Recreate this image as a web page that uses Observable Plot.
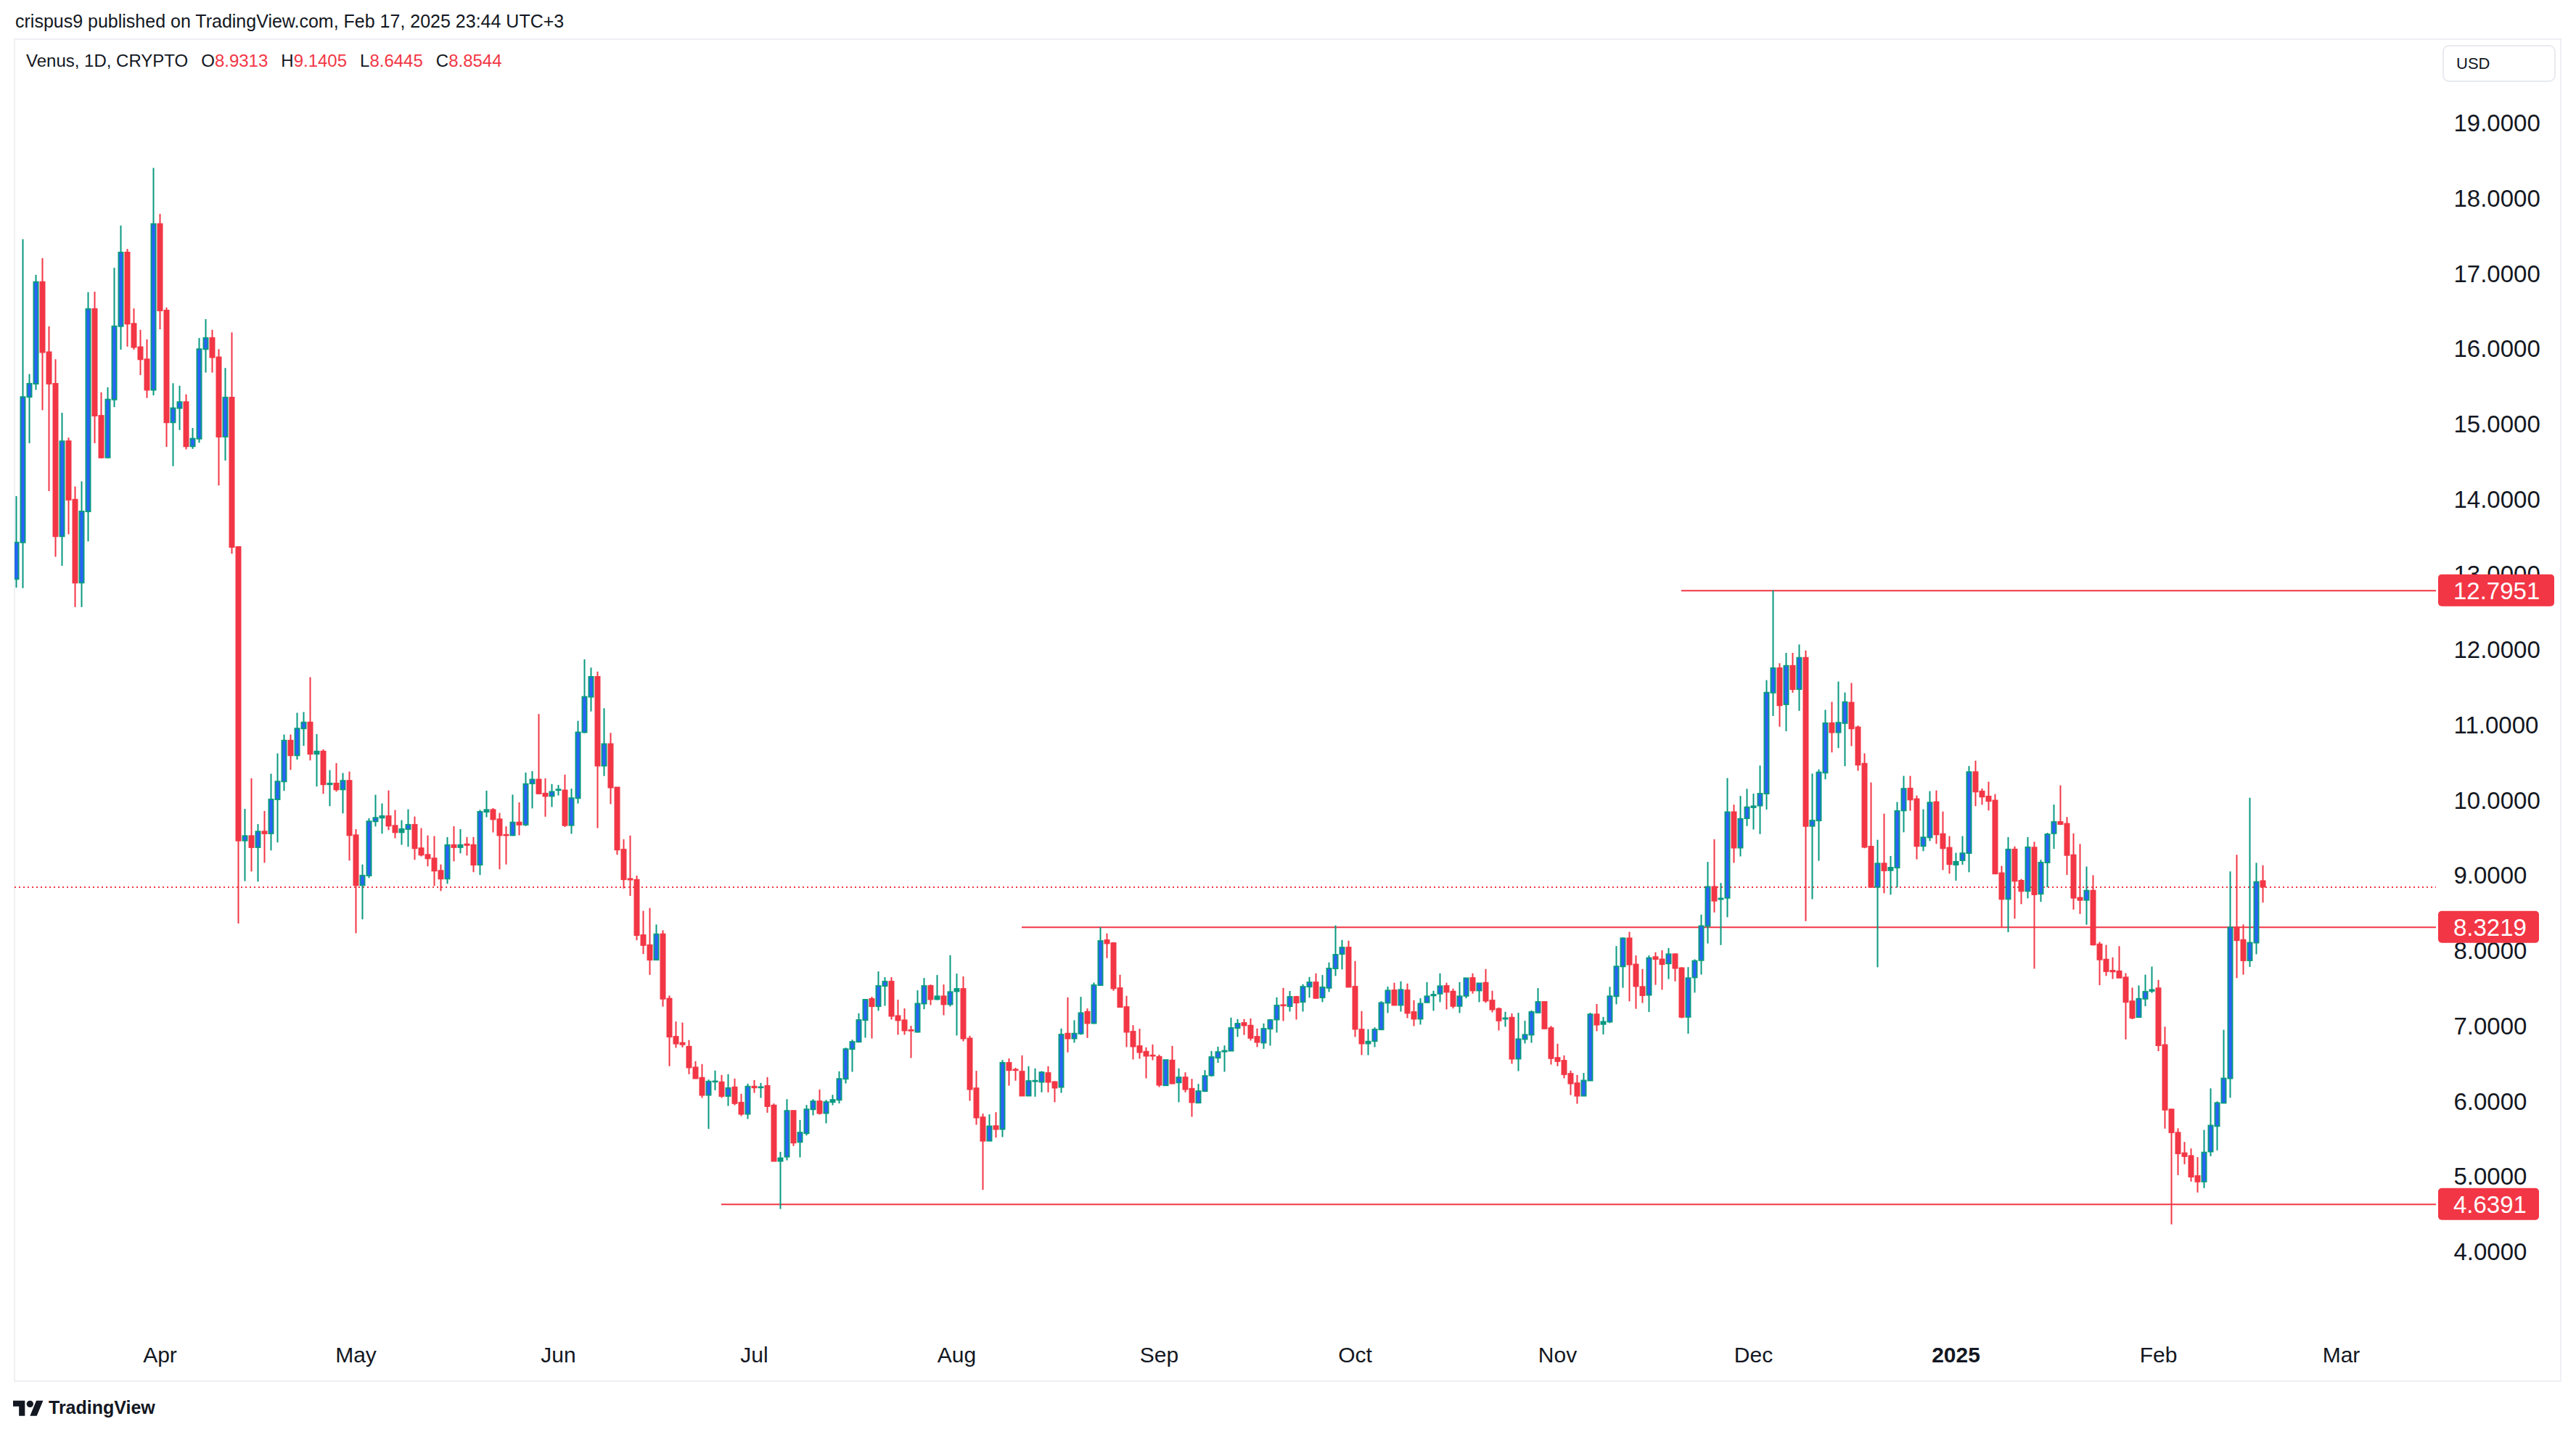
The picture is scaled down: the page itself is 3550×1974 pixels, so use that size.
<!DOCTYPE html>
<html>
<head>
<meta charset="utf-8">
<script src="https://cdn.jsdelivr.net/npm/d3@7"></script>
<script src="https://cdn.jsdelivr.net/npm/@observablehq/plot@0.6"></script>
<style>
  html, body { margin: 0; padding: 0; background: #ffffff; }
  #page { position: relative; width: 3550px; height: 1974px; overflow: hidden; background: #fff;
          font-family: "Liberation Sans", Arial, sans-serif; color: #131722; }
  #frame { position: absolute; left: 19px; top: 53px; width: 3511px; height: 1852px; border: 2px solid #eef0f3; box-sizing: border-box; }
  #published { position: absolute; left: 21px; top: 14px; font-size: 25px; line-height: 30px; white-space: nowrap; }
  #legend { position: absolute; left: 36px; top: 69px; font-size: 24px; line-height: 30px; white-space: nowrap; }
  #legend .v { color: #F23645; }
  #legend .g { margin-left: 18px; }
  #usd { position: absolute; left: 3366px; top: 62px; width: 156px; height: 51px; box-sizing: border-box;
         border: 2px solid #e8eaef; border-radius: 9px; font-size: 22px; line-height: 47px; padding-left: 17px; }
  #chart { position: absolute; left: 0; top: 0; }
  #brand { position: absolute; left: 18px; top: 1922px; height: 36px; display: flex; align-items: center;
           font-size: 25px; font-weight: bold; color: #131722; }
  #brand svg { margin-right: 7px; }
</style>
</head>
<body>
<div id="page">
  <div id="frame"></div>
  <div id="published"></div>
  <div id="legend"></div>
  <div id="usd">USD</div>
  <div id="chart"></div>
  <div id="brand"><svg width="42" height="28" viewBox="0 0 36 24"><path fill="#131722" d="M14 22H7V11H0V4h14v18zM28 22h-8l7.5-18h8L28 22z"/><circle fill="#131722" cx="20" cy="8" r="4"/></svg>TradingView</div>
</div>
<script>
// ---------------- data ----------------
const publishedText = "crispus9 published on TradingView.com, Feb 17, 2025 23:44 UTC+3";
const symbolText = "Venus, 1D, CRYPTO";
const firstDay = "2024-03-10"; // first daily candle

const open = [12.944,13.43,15.364,15.54,16.892,15.959,15.54,13.512,14.776,13.998,
12.896,13.843,16.533,15.114,14.559,15.33,16.303,17.284,16.337,16.026,
15.864,15.458,17.662,16.513,15.026,15.215,15.296,14.708,14.81,15.999,
16.148,15.891,14.836,15.357,13.37,9.469,9.53,9.38,9.589,9.563,
10.016,10.254,10.798,10.601,10.958,11.039,10.621,10.653,10.216,10.228,
10.148,10.264,9.54,8.875,9.004,9.724,9.772,9.794,9.666,9.579,
9.621,9.679,9.367,9.28,9.232,9.068,8.962,9.409,9.38,9.42,
9.41,9.147,9.851,9.877,9.752,9.545,9.539,9.71,9.68,10.227,
10.28,10.094,10.06,10.14,10.136,9.672,10.033,10.908,11.379,11.645,
10.463,10.752,10.174,9.349,8.96,8.946,8.212,8.079,7.885,8.224,
7.368,6.862,6.78,6.73,6.454,6.316,6.087,6.264,6.258,6.074,
6.19,5.987,5.836,6.2,6.187,6.209,5.949,5.21,5.267,5.878,
5.463,5.579,5.897,6.004,5.846,5.994,6.023,6.302,6.698,6.794,
7.084,7.364,7.267,7.537,7.595,7.138,7.081,6.95,6.926,7.302,
7.537,7.36,7.399,7.293,7.466,7.498,6.839,6.177,5.791,5.479,
5.675,5.634,6.515,6.425,6.399,6.078,6.27,6.261,6.38,6.261,
6.193,6.904,6.839,6.904,7.193,7.042,7.547,8.145,8.106,7.508,
7.257,6.93,6.737,6.663,6.614,6.595,6.216,6.547,6.254,6.322,
6.171,5.985,6.139,6.348,6.582,6.665,6.675,6.978,7.045,7.01,
6.862,6.782,6.968,7.09,7.283,7.267,7.392,7.325,7.527,7.585,
7.383,7.511,7.769,7.962,8.048,7.527,6.958,6.772,6.804,6.958,
7.312,7.479,7.283,7.479,7.19,7.1,7.318,7.41,7.434,7.537,
7.463,7.27,7.405,7.643,7.476,7.579,7.344,7.232,7.1,7.116,
6.569,6.83,6.888,7.183,7.325,6.977,6.582,6.544,6.37,6.244,
6.077,6.28,7.159,7.03,7.061,7.4,7.796,8.17,7.822,7.525,
7.417,7.921,7.89,7.835,7.959,7.774,7.125,7.65,7.878,8.333,
8.854,8.69,8.707,9.847,9.374,9.765,9.91,9.933,10.092,11.434,
11.76,11.279,11.791,11.481,11.898,9.662,9.735,10.37,11.029,10.907,
11.029,11.302,10.974,10.489,9.389,8.852,9.164,9.074,9.109,9.868,
10.161,10.02,9.396,9.511,9.981,9.556,9.373,9.148,9.206,9.302,
10.379,10.122,10.055,10.0,9.036,8.692,9.351,8.936,8.798,9.376,
8.761,9.177,9.564,9.716,9.692,9.276,8.708,8.679,8.803,8.09,
7.888,7.74,7.732,7.65,7.333,7.123,7.366,7.47,7.506,6.752,
5.896,5.587,5.315,5.278,5.011,4.937,5.336,5.674,5.982,6.308,
8.313,8.148,7.876,8.111,8.9313];

const high = [14.046,17.459,15.668,16.986,17.209,16.303,15.864,15.154,14.823,14.174,
14.242,16.756,16.763,15.425,15.492,17.081,17.642,17.331,16.54,16.256,
16.128,18.406,17.797,16.553,15.546,15.513,15.398,14.951,16.148,16.398,
16.256,15.999,15.749,16.222,13.37,9.89,10.296,9.688,9.862,10.357,
10.627,10.878,10.878,11.167,11.177,11.64,10.884,10.682,10.405,10.498,
10.367,10.386,9.621,9.151,9.765,10.077,9.962,10.135,9.875,9.74,
9.884,9.788,9.634,9.537,9.528,9.151,9.515,9.659,9.621,9.515,
9.516,9.877,10.132,9.9,9.836,9.657,10.079,9.976,10.372,10.391,
11.151,10.296,10.22,10.208,10.345,10.159,11.06,11.877,11.767,11.714,
11.227,10.9,10.174,9.486,9.535,9.003,8.535,8.573,8.353,8.277,
7.41,7.064,7.05,6.817,6.537,6.499,6.293,6.412,6.354,6.364,
6.306,6.103,6.238,6.286,6.248,6.325,5.975,5.332,6.032,5.878,
5.756,5.955,6.032,6.161,6.023,6.09,6.402,6.717,6.823,7.174,
7.364,7.393,7.73,7.653,7.653,7.354,7.238,7.007,7.479,7.643,
7.556,7.682,7.556,7.945,7.701,7.663,6.875,6.409,5.84,5.83,
5.859,6.553,6.573,6.45,6.614,6.47,6.441,6.405,6.47,6.271,
6.971,7.386,7.081,7.392,7.238,7.582,8.318,8.235,8.119,7.685,
7.405,7.016,6.968,6.721,6.759,6.624,6.553,6.74,6.441,6.389,
6.302,6.235,6.418,6.672,6.73,6.746,7.116,7.097,7.097,7.106,
6.971,7.039,7.097,7.386,7.511,7.47,7.405,7.56,7.656,7.704,
7.682,7.849,8.341,8.148,8.138,7.868,7.203,6.962,6.987,7.334,
7.527,7.579,7.598,7.569,7.347,7.373,7.588,7.473,7.704,7.579,
7.502,7.588,7.64,7.704,7.572,7.762,7.473,7.251,7.193,7.171,
7.18,7.074,7.212,7.508,7.325,7.006,6.769,6.614,6.412,6.354,
6.38,7.18,7.297,7.125,7.525,8.067,8.183,8.256,7.942,7.762,
7.942,7.985,8.011,8.041,7.972,7.787,7.787,7.89,8.484,9.185,
9.486,8.905,10.299,9.946,10.062,10.157,10.092,10.466,11.601,12.7951,
11.825,11.963,11.963,12.074,11.993,10.359,10.415,11.206,11.312,11.582,
11.437,11.563,10.997,10.627,10.241,9.479,9.826,9.264,9.981,10.328,
10.328,10.068,9.884,10.125,10.135,9.855,9.528,9.306,9.528,10.46,
10.53,10.161,10.251,10.087,9.132,9.515,9.392,8.958,9.515,9.453,
9.214,9.572,9.947,10.202,9.782,9.564,9.424,9.124,9.008,8.123,
8.082,7.917,8.066,7.707,7.514,7.543,7.687,7.794,7.617,6.995,
5.904,5.645,5.464,5.377,5.262,5.624,6.176,6.003,6.954,9.058,
9.28,8.354,10.038,9.173,9.1405];

const low = [12.83,12.822,14.749,15.458,15.188,14.113,13.241,13.12,13.539,12.572,
12.572,13.444,14.749,14.546,14.55,15.229,15.992,16.033,15.992,15.654,
15.35,15.384,16.263,14.701,14.444,14.924,14.667,14.674,14.755,15.688,
15.688,14.188,14.519,13.282,8.367,8.93,9.058,8.923,9.174,9.338,
9.444,10.129,10.408,10.544,10.727,10.534,10.187,10.09,9.926,10.119,
9.83,9.203,8.238,8.422,8.971,9.656,9.56,9.608,9.499,9.412,
9.386,9.213,9.258,9.126,8.865,8.798,8.894,9.193,9.299,9.27,
9.049,9.011,9.779,9.577,9.087,9.151,9.532,9.539,9.661,9.896,
10.087,9.786,9.915,10.068,9.649,9.558,9.961,10.896,11.185,9.634,
10.326,9.953,9.28,8.832,8.733,8.144,7.961,7.684,7.885,7.262,
6.471,6.714,6.72,6.364,6.309,6.049,5.637,6.151,6.049,5.942,
5.952,5.807,5.769,6.116,6.049,5.852,5.21,4.573,5.219,5.409,
5.258,5.55,5.817,5.827,5.711,5.952,5.975,6.241,6.396,6.794,
6.849,6.839,7.206,7.273,7.09,6.888,6.888,6.579,6.917,7.228,
7.283,7.351,7.148,7.264,6.878,6.801,6.01,5.692,4.827,5.479,
5.521,5.528,6.212,6.277,6.078,6.078,6.065,6.123,6.123,5.991,
6.116,6.653,6.782,6.888,6.846,7.032,7.547,7.907,7.473,7.257,
6.724,6.56,6.569,6.309,6.55,6.193,6.216,6.241,5.991,6.123,
5.798,5.975,6.129,6.332,6.515,6.396,6.675,6.859,6.885,6.811,
6.724,6.701,6.743,6.917,7.071,7.196,7.09,7.196,7.38,7.367,
7.322,7.457,7.669,7.756,7.524,6.859,6.618,6.617,6.724,6.958,
7.177,7.283,7.196,7.109,7.003,7.023,7.318,7.206,7.321,7.225,
7.238,7.177,7.373,7.434,7.321,7.312,7.186,6.945,6.994,6.502,
6.405,6.772,6.781,7.174,6.965,6.492,6.47,6.309,6.087,5.971,
6.077,6.28,6.936,6.893,7.043,7.293,7.512,7.332,7.233,7.31,
7.19,7.551,7.486,7.628,7.598,7.108,6.902,7.448,7.688,8.101,
8.514,8.08,8.45,9.172,9.258,9.662,9.615,9.555,9.881,11.124,
10.982,10.922,11.434,11.193,8.398,8.69,9.2,10.283,10.64,10.698,
10.457,10.723,10.396,9.367,8.839,7.785,8.769,8.749,8.846,9.579,
9.865,9.219,9.328,9.463,9.425,9.077,9.029,8.936,9.148,9.048,
9.926,9.945,9.868,9.029,8.315,8.251,8.431,8.624,8.701,7.766,
8.654,8.848,9.358,9.675,9.012,8.551,8.494,8.35,8.074,7.547,
7.67,7.629,7.646,6.826,7.094,7.123,7.267,7.444,6.67,5.641,
4.368,5.023,5.167,4.937,4.792,4.85,5.274,5.352,5.982,6.052,
7.641,7.687,7.79,7.958,8.6445];

const close = [13.43,15.364,15.54,16.892,15.959,15.54,13.512,14.776,13.998,12.896,
13.843,16.533,15.114,14.559,15.33,16.303,17.284,16.337,16.026,15.864,
15.458,17.662,16.513,15.026,15.215,15.296,14.708,14.81,15.999,16.148,
15.891,14.836,15.357,13.37,9.469,9.53,9.38,9.589,9.563,10.016,
10.254,10.798,10.601,10.958,11.039,10.621,10.653,10.216,10.228,10.148,
10.264,9.54,8.875,9.004,9.724,9.772,9.794,9.666,9.579,9.621,
9.679,9.367,9.28,9.232,9.068,8.962,9.409,9.38,9.409,9.409,
9.147,9.851,9.877,9.752,9.539,9.539,9.71,9.68,10.22,10.28,
10.094,10.06,10.117,10.147,9.672,10.033,10.908,11.379,11.645,10.463,
10.752,10.174,9.349,8.954,8.95,8.212,8.079,7.885,8.224,7.368,
6.862,6.771,6.76,6.454,6.309,6.087,6.267,6.27,6.074,6.18,
5.978,5.836,6.2,6.187,6.193,5.939,5.21,5.248,5.878,5.454,
5.589,5.897,6.004,5.846,5.994,6.023,6.302,6.698,6.794,7.084,
7.354,7.267,7.537,7.595,7.138,7.081,6.946,6.943,7.302,7.537,
7.36,7.399,7.293,7.457,7.498,6.839,6.164,5.788,5.479,5.672,
5.634,6.515,6.418,6.418,6.078,6.274,6.277,6.389,6.261,6.184,
6.891,6.839,6.904,7.177,7.042,7.547,8.135,8.103,7.505,7.257,
6.926,6.733,6.656,6.608,6.608,6.222,6.553,6.241,6.322,6.164,
5.991,6.139,6.341,6.592,6.659,6.675,6.978,7.036,7.013,6.846,
6.791,6.968,7.084,7.277,7.277,7.392,7.315,7.527,7.585,7.376,
7.518,7.769,7.952,8.048,7.524,6.965,6.772,6.798,6.958,7.312,
7.476,7.283,7.486,7.177,7.1,7.302,7.399,7.421,7.534,7.457,
7.27,7.399,7.64,7.476,7.572,7.341,7.225,7.077,7.109,6.569,
6.83,6.888,7.19,7.325,6.971,6.576,6.537,6.363,6.241,6.077,
6.28,7.159,7.022,7.061,7.4,7.796,8.17,7.822,7.534,7.413,
7.908,7.895,7.826,7.959,7.774,7.125,7.641,7.869,8.333,8.854,
8.669,8.699,9.847,9.374,9.757,9.912,9.925,10.092,11.434,11.76,
11.266,11.791,11.481,11.898,9.662,9.735,10.376,11.029,10.907,11.035,
11.309,10.958,10.476,9.383,8.852,9.164,9.071,9.109,9.862,10.158,
10.013,9.396,9.511,9.974,9.55,9.367,9.155,9.187,9.3,10.379,
10.119,10.052,9.994,9.029,8.692,9.351,8.933,8.798,9.38,8.753,
9.177,9.552,9.716,9.688,9.276,8.708,8.679,8.803,8.086,7.888,
7.732,7.728,7.646,7.324,7.114,7.366,7.46,7.485,6.748,5.892,
5.591,5.311,5.274,5.002,4.937,5.324,5.682,5.982,6.308,8.313,
8.144,7.876,8.111,8.918,8.8544];

// horizontal levels drawn on the chart
const levelValues = [12.7951, 8.3219, 4.6391];
const levelLabels = ["12.7951", "8.3219", "4.6391"];
const levelStarts = ["2024-11-20", "2024-08-11", "2024-06-26"];

// axis ticks
const priceTicks = [4,5,6,7,8,9,10,11,12,13,14,15,16,17,18,19];
const monthTicks = ["2024-04-01","2024-05-01","2024-06-01","2024-07-01","2024-08-01","2024-09-01","2024-10-01","2024-11-01","2024-12-01","2025-02-01","2025-03-01"];
const monthLabels = ["Apr","May","Jun","Jul","Aug","Sep","Oct","Nov","Dec","Feb","Mar"];
const yearTicks = ["2025-01-01"];
const yearLabels = ["2025"];

// ---------------- build ----------------
const red = "#F23645", green = "#089981", blue = "#2962FF", ink = "#131722";
const DAY = 864e5;
const t0 = new Date(firstDay + "T00:00:00Z").getTime();
const candles = open.map((o, i) => ({date: new Date(t0 + i * DAY), open: o, high: high[i], low: low[i], close: close[i]}));
const ups = candles.filter(d => d.close >= d.open);
const downs = candles.filter(d => d.close < d.open);
const upBodies = ups.filter(d => d.close - d.open > 0.045);
const levels = levelValues.map((v, i) => ({value: v, label: levelLabels[i], start: new Date(levelStarts[i] + "T00:00:00Z")}));
const last = candles[candles.length - 1];

const xDomain = [new Date("2024-03-09T18:40:00Z"), new Date("2025-03-15T13:20:00Z")];

const monthDates = monthTicks.map(s => new Date(s + "T00:00:00Z"));
const monthMap = new Map(monthDates.map((d, i) => [+d, monthLabels[i]]));
const yearDates = yearTicks.map(s => new Date(s + "T00:00:00Z"));
const yearMap = new Map(yearDates.map((d, i) => [+d, yearLabels[i]]));

// header texts
document.getElementById("published").textContent = publishedText;
const legend = document.getElementById("legend");
legend.innerHTML = `<span>${symbolText}</span>` +
  [["O", last.open], ["H", last.high], ["L", last.low], ["C", last.close]]
    .map(([k, v]) => `<span class="g">${k}<span class="v">${v.toFixed(4)}</span></span>`).join("");

function priceTags(index, scales, values, dimensions) {
  const g = d3.create("svg:g");
  const x0 = dimensions.width - dimensions.marginRight + 3;
  for (const lv of levels) {
    const yy = scales.y(lv.value);
    const w = 13 + 21 * lv.label.length;
    g.append("rect").attr("x", x0).attr("y", yy - 22).attr("width", w).attr("height", 44)
      .attr("rx", 5).attr("fill", red);
    g.append("text").attr("x", x0 + 21).attr("y", yy).attr("dy", "0.36em")
      .attr("text-anchor", "start")
      .attr("fill", "#ffffff").attr("font-size", 33).attr("font-family", "Liberation Sans, Arial, sans-serif")
      .text(lv.label);
  }
  return g.node();
}

const chart = Plot.plot({
  width: 3550,
  height: 1974,
  marginLeft: 20,
  marginRight: 193,
  marginTop: 55,
  marginBottom: 174,
  style: {background: "transparent", color: ink, fontFamily: "Liberation Sans, Arial, sans-serif", fontSize: "33px", overflow: "visible"},
  x: {type: "utc", domain: xDomain},
  y: {type: "linear", domain: [4, 19], range: [1726, 170]},
  marks: [
    Plot.ruleY([last.close], {stroke: red, strokeWidth: 2, strokeDasharray: "2,4"}),
    Plot.ruleY(levels, {y: "value", x1: "start", x2: () => xDomain[1], stroke: red, strokeWidth: 2}),
    Plot.ruleX(ups, {x: "date", y1: "low", y2: "high", stroke: green, strokeWidth: 2, clip: "frame"}),
    Plot.ruleX(downs, {x: "date", y1: "low", y2: "high", stroke: red, strokeWidth: 2, clip: "frame"}),
    Plot.ruleX(ups, {x: "date", y1: "close", y2: "open", stroke: green, strokeWidth: 8, insetTop: -1, insetBottom: -1, clip: "frame"}),
    Plot.ruleX(upBodies, {x: "date", y1: "close", y2: "open", stroke: blue, strokeWidth: 4, insetTop: 1, insetBottom: 1, clip: "frame"}),
    Plot.ruleX(downs, {x: "date", y1: "open", y2: "close", stroke: red, strokeWidth: 8, insetTop: -1, insetBottom: -1, clip: "frame"}),
    Plot.axisY(priceTicks, {anchor: "right", tickSize: 0, tickPadding: 24, tickFormat: d => d.toFixed(4), fontSize: 33, label: null}),
    Plot.axisX(monthDates, {anchor: "bottom", tickSize: 0, tickPadding: 56, tickFormat: d => monthMap.get(+d), fontSize: 30, label: null}),
    Plot.axisX(yearDates, {anchor: "bottom", tickSize: 0, tickPadding: 56, tickFormat: d => yearMap.get(+d), fontSize: 30, fontWeight: "bold", label: null}),
    priceTags
  ]
});
document.getElementById("chart").appendChild(chart);
</script>
</body>
</html>
